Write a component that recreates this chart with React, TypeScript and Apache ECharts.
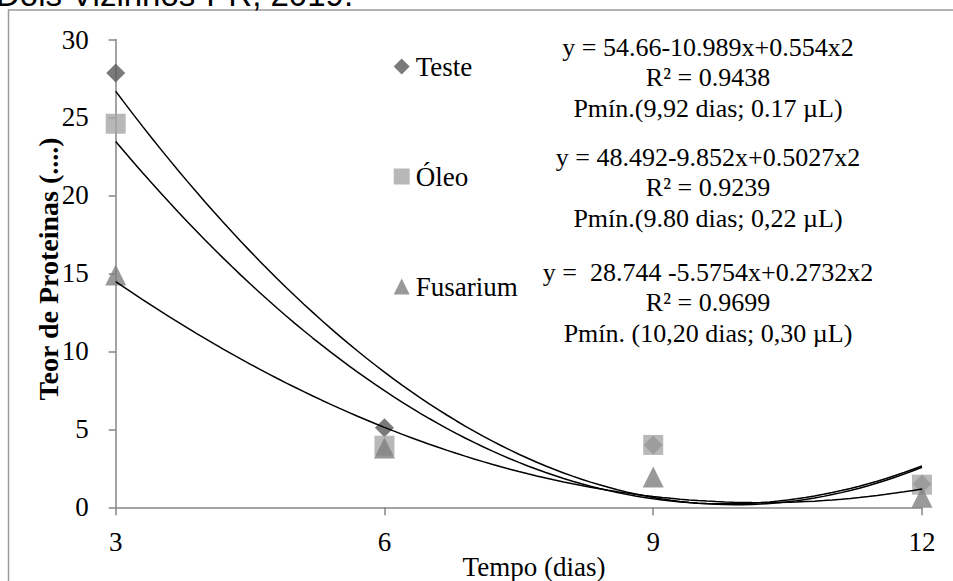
import React, { useEffect, useRef } from "react";
import * as echarts from "echarts";

const xValues = [3, 6, 9, 12];
const testeValues = [27.85, 5.1, 4.0, 1.5];
const oleoValues = [24.6, 3.95, 4.0, 1.45];
const fusariumValues = [14.9, 3.8, 1.95, 0.65];

const seriesNames = ["Teste", "Óleo", "Fusarium"];
// trendline coefficients [a, b, c] as printed: y = a + b x + c x^2
const testeFit = [54.66, -10.989, 0.554];
const oleoFit = [48.492, -9.852, 0.5027];
const fusariumFit = [28.744, -5.5754, 0.2732];

const equationBlocks = [
  "y = 54.66-10.989x+0.554x2\nR² = 0.9438\nPmín.(9,92 dias; 0.17 µL)",
  "y = 48.492-9.852x+0.5027x2\nR² = 0.9239\nPmín.(9.80 dias; 0,22 µL)",
  "y = \u00a028.744 -5.5754x+0.2732x2\nR² = 0.9699\nPmín. (10,20 dias; 0,30 µL)",
];

const xTicks = [3, 6, 9, 12];
const yTicks = [0, 5, 10, 15, 20, 25, 30];

const SERIF = "'Liberation Serif', 'Times New Roman', serif";

function curve(coef: number[]) {
  const pts: number[][] = [];
  for (let i = 0; i <= 90; i++) {
    const x = 3 + i * 0.1;
    pts.push([x, coef[0] + coef[1] * x + coef[2] * x * x]);
  }
  return pts;
}

export default function App() {
  const ref = useRef<HTMLDivElement>(null);
  useEffect(() => {
    if (!ref.current) return;
    const chart = echarts.init(ref.current, null, { renderer: "svg" });
    const pair = (vals: number[]) => xValues.map((x, i) => [x, vals[i]]);
    chart.setOption({
      animation: false,
      backgroundColor: "#ffffff",
      grid: { left: 115.7, right: 31, top: 39.5, bottom: 73.7, containLabel: false },
      xAxis: {
        type: "value",
        min: xTicks[0],
        max: xTicks[xTicks.length - 1],
        interval: 3,
        axisLine: { show: true, lineStyle: { color: "#868686", width: 1.5 } },
        axisTick: { show: true, length: 8, lineStyle: { color: "#868686", width: 1.5 } },
        axisLabel: { margin: 21, color: "#000", fontFamily: SERIF, fontSize: 27 },
        splitLine: { show: false },
      },
      yAxis: {
        type: "value",
        min: yTicks[0],
        max: yTicks[yTicks.length - 1],
        interval: 5,
        axisLine: { show: true, lineStyle: { color: "#868686", width: 1.5 } },
        axisTick: { show: true, length: 7, lineStyle: { color: "#868686", width: 1.5 } },
        axisLabel: { margin: 27, color: "#000", fontFamily: SERIF, fontSize: 27 },
        splitLine: { show: false },
      },
      legend: {
        orient: "vertical",
        left: 388.7,
        top: 48,
        itemGap: 83,
        itemWidth: 16,
        itemHeight: 16,
        textStyle: { color: "#000", fontFamily: SERIF, fontSize: 27, padding: [0, 0, 0, 1] },
        data: [
          { name: seriesNames[0], icon: "diamond" },
          { name: seriesNames[1], icon: "rect" },
          { name: seriesNames[2], icon: "triangle" },
        ],
      },
      series: [
        {
          name: seriesNames[0],
          type: "scatter",
          symbol: "diamond",
          symbolSize: 19,
          itemStyle: { color: "#595959" },
          data: pair(testeValues),
          z: 2,
        },
        {
          name: seriesNames[1],
          type: "scatter",
          symbol: "rect",
          symbolSize: 20,
          itemStyle: { color: "#a6a6a6" },
          data: pair(oleoValues),
          z: 3,
        },
        {
          name: seriesNames[2],
          type: "scatter",
          symbol: "triangle",
          symbolSize: 21,
          itemStyle: { color: "#808080" },
          data: pair(fusariumValues),
          z: 4,
        },
        ...[testeFit, oleoFit, fusariumFit].map((c) => ({
          type: "line",
          showSymbol: false,
          symbol: "none",
          smooth: false,
          lineStyle: { color: "#000", width: 1.5 },
          data: curve(c),
          z: 5,
          silent: true,
        })),
      ],
      graphic: [
        {
          type: "rect",
          shape: { x: 8.5, y: 10, width: 960, height: 600 },
          style: { fill: "none", stroke: "#9a9a9a", lineWidth: 1.5 },
          silent: true,
        },
        {
          type: "text",
          x: -4,
          y: -6,
          style: {
            text: "Dois Vizinhos-PR, 2019.",
            fontFamily: "'Liberation Sans', Arial, sans-serif",
            fontSize: 33,
            fill: "#000",
            textVerticalAlign: "middle",
          },
        },
        {
          type: "text",
          x: 48,
          y: 269,
          rotation: Math.PI / 2,
          style: {
            text: "Teor de Proteinas (....)",
            fontFamily: SERIF,
            fontSize: 28,
            fontWeight: "bold",
            fill: "#000",
            textAlign: "center",
            textVerticalAlign: "middle",
          },
        },
        {
          type: "text",
          x: 534,
          y: 567,
          style: {
            text: "Tempo (dias)",
            fontFamily: SERIF,
            fontSize: 27,
            fill: "#000",
            textAlign: "center",
            textVerticalAlign: "middle",
          },
        },
        ...equationBlocks.map((t, i) => ({
          type: "text",
          x: 708,
          y: [32, 142, 257][i],
          style: {
            text: t,
            fontFamily: SERIF,
            fontSize: 26,
            lineHeight: 30.5,
            fill: "#000",
            textAlign: "center",
            textVerticalAlign: "top",
          },
        })),
      ],
    });
    return () => chart.dispose();
  }, []);
  return (
    <div
      ref={ref}
      style={{ position: "fixed", left: 0, top: 0, width: 953, height: 581, background: "#fff" }}
    />
  );
}
